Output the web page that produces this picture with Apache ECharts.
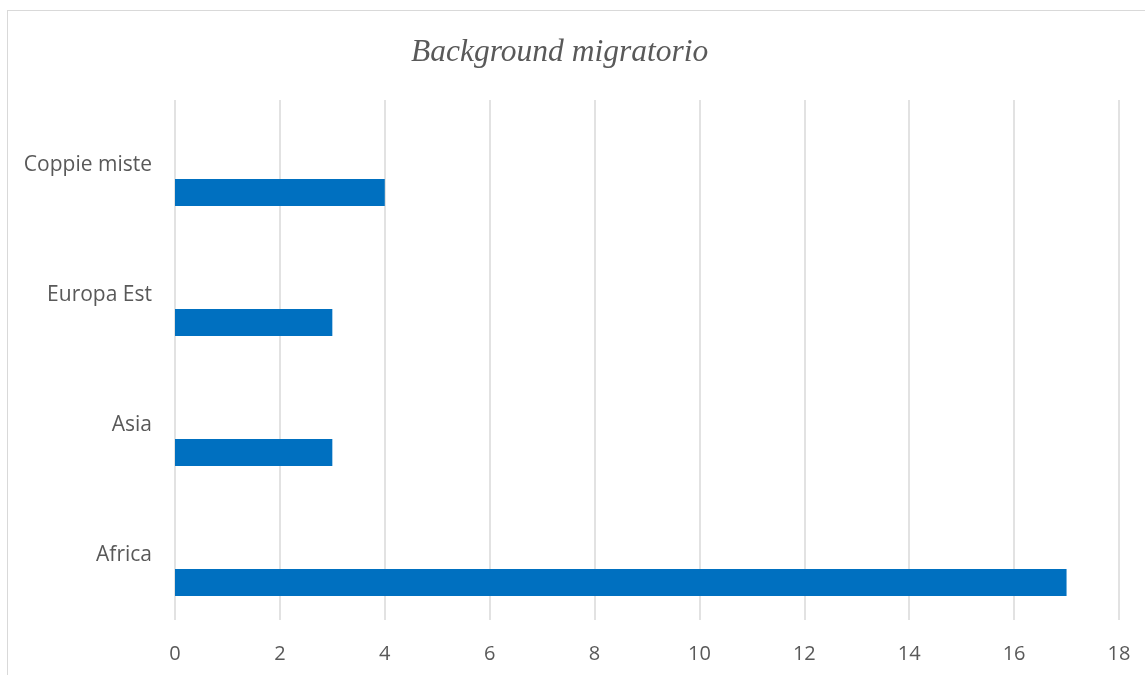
<!DOCTYPE html>
<html>
<head>
<meta charset="utf-8">
<script src="https://cdn.jsdelivr.net/npm/echarts@6/dist/echarts.min.js"></script>
<style>
  html, body { margin: 0; padding: 0; background: #fff; }
  #frame {
    position: absolute; left: 7px; top: 10px; width: 1150px; height: 680px;
    border: 1px solid #d9d9d9; box-sizing: border-box;
  }
  #chart { position: absolute; left: 0; top: 0; width: 1145px; height: 675px; }
</style>
</head>
<body>
<div id="frame"></div>
<div id="chart"></div>
<script>
const categories = ['Africa', 'Asia', 'Europa Est', 'Coppie miste']
const values = [17, 3, 3, 4]
const emptyValues = [null, null, null, null]
const xTicks = { min: 0, max: 18, interval: 2 }

const chart = echarts.init(document.getElementById('chart'))
chart.setOption({
  animation: false,
  title: {
    text: 'Background migratorio',
    left: 406,
    top: 32,
    textStyle: {
      fontFamily: 'Liberation Serif',
      fontStyle: 'italic',
      fontWeight: 'normal',
      fontSize: 31.5,
      color: '#595959'
    }
  },
  grid: { left: 175, right: 26, top: 100, bottom: 55, containLabel: false },
  xAxis: {
    type: 'value',
    min: xTicks.min,
    max: xTicks.max,
    interval: xTicks.interval,
    axisLine: { show: false },
    axisTick: { show: false },
    splitLine: { lineStyle: { color: '#d9d9d9', width: 1.5 } },
    axisLabel: { color: '#595959', fontSize: 20, fontFamily: 'Open Sans', margin: 24 }
  },
  yAxis: {
    type: 'category',
    data: categories,
    axisLine: { show: false },
    axisTick: { show: false },
    axisLabel: { color: '#595959', fontSize: 21, fontFamily: 'Open Sans', margin: 23 }
  },
  series: [
    {
      type: 'bar',
      data: emptyValues,
      barWidth: 27,
      barGap: '104%'
    },
    {
      type: 'bar',
      data: values,
      barWidth: 27,
      barGap: '104%',
      itemStyle: { color: '#0070C0' }
    }
  ]
})
</script>
</body>
</html>
